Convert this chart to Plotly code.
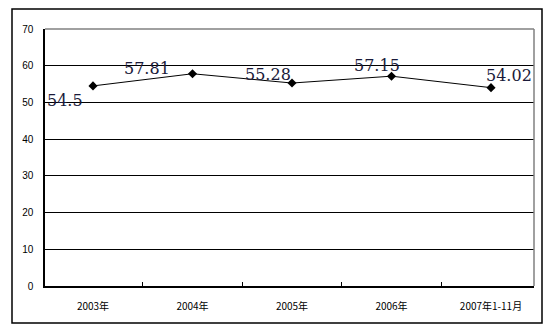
import plotly.graph_objects as go

categories = ["2003年", "2004年", "2005年", "2006年", "2007年1-11月"]
values = [54.5, 57.81, 55.28, 57.15, 54.02]
labels = ["54.5", "57.81", "55.28", "57.15", "54.02"]
y_ticks = [0, 10, 20, 30, 40, 50, 60, 70]

# label offsets (pixels) relative to each point
label_shifts = [(-28, -15), (-46, 5), (-24, 9), (-15, 11), (18, 12)]

fig = go.Figure()
fig.add_trace(go.Scatter(
    x=categories, y=values, mode="lines+markers",
    line=dict(color="black", width=1),
    marker=dict(symbol="diamond", size=7, color="black"),
    hoverinfo="skip", showlegend=False,
))

for c, v, t, (dx, dy) in zip(categories, values, labels, label_shifts):
    fig.add_annotation(x=c, y=v, text=t, showarrow=False, xshift=dx, yshift=dy,
                       font=dict(family="DejaVu Serif, Liberation Serif, serif", size=16, color="#1a1a3a"))

W, H = 547, 332
L, R, T, B = 45, 13, 29, 46
pw, ph = W - L - R, H - T - B

# outer border of chart area
fig.add_shape(type="rect", xref="paper", yref="paper",
              x0=(12 - L) / pw, x1=(542 - L) / pw,
              y0=(H - B - 323) / ph, y1=(H - B - 9) / ph,
              line=dict(color="black", width=1.5), layer="below")
# gray top and right frame
fig.add_shape(type="line", xref="paper", yref="paper", x0=0, x1=1, y0=1, y1=1,
              line=dict(color="#808080", width=1.5))
fig.add_shape(type="line", xref="paper", yref="paper", x0=1, x1=1, y0=0, y1=1,
              line=dict(color="#808080", width=1.5))

fig.update_layout(
    autosize=False,
    width=W, height=H,
    margin=dict(l=L, r=R, t=T, b=B, pad=0, autoexpand=False),
    paper_bgcolor="white", plot_bgcolor="white",
    font=dict(family="Noto Sans CJK SC, Liberation Sans, sans-serif", size=10, color="black"),
    xaxis=dict(type="category", showgrid=False, showline=True, linecolor="black", linewidth=1.5,
               ticks="inside", ticklen=4, tickcolor="black", tickson="boundaries",
               ticklabelstandoff=10, tickfont=dict(size=10), fixedrange=True, automargin=False),
    yaxis=dict(range=[0, 70], tickvals=y_ticks, showgrid=True, gridcolor="black", gridwidth=1,
               showline=True, linecolor="black", linewidth=1.5, ticks="",
               ticklabelstandoff=8, tickfont=dict(family="Liberation Sans, Arial, sans-serif", size=10),
               zeroline=False, fixedrange=True, automargin=False),
)

fig.write_html("out.html")
